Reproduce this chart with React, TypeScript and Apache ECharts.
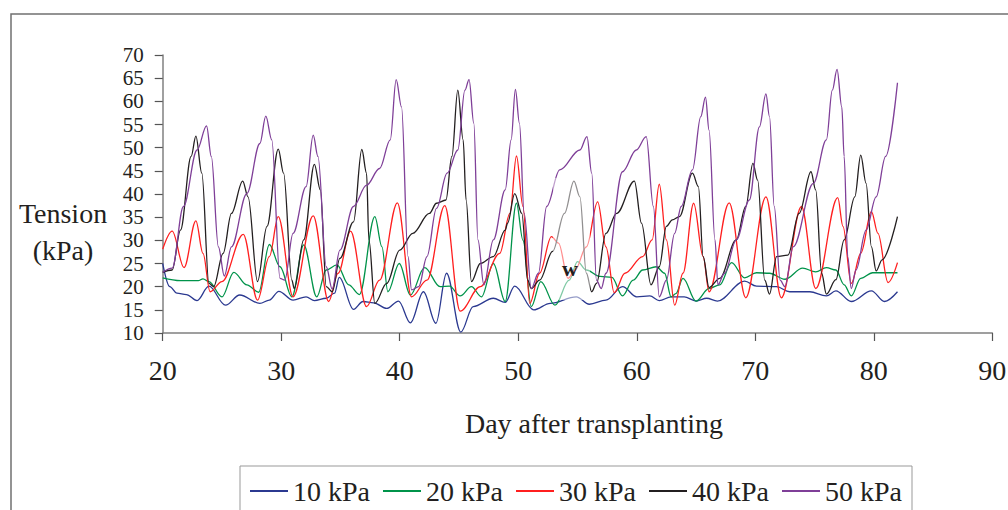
import React, { useEffect, useRef } from "react";
import * as echarts from "echarts";

const seriesNames = ["10 kPa", "20 kPa", "30 kPa", "40 kPa", "50 kPa"];
const seriesColors = ["#2b3990", "#00934a", "#ff1f1f", "#231f20", "#7f3f98"];

const days10 = [20.0, 20.6, 21.2, 22.0, 22.9, 23.9, 25.3, 26.5, 28.2, 29.0, 29.8, 31.0, 32.1, 32.8, 33.8, 34.5, 34.9, 36.1, 36.9, 37.8, 38.9, 39.9, 40.9, 42.0, 43.05, 43.95, 45.15, 46.2, 47.9, 48.9, 49.7, 51.3, 52.7, 54.9, 56.0, 57.4, 58.8, 60.0, 61.1, 61.9, 62.9, 64.0, 65.0, 65.9, 66.8, 69.1, 70.1, 71.8, 72.9, 74.6, 76.0, 76.8, 78.1, 79.8, 80.9, 82.0];
const kpa10 = [25, 20, 18.6, 18.3, 17, 20.1, 16, 18.2, 16.4, 17.1, 19, 17.1, 17.8, 17, 17.5, 18.6, 22, 15.1, 16.8, 16.5, 15.3, 16.9, 12.2, 18.9, 12.1, 22.9, 10.2, 15.7, 17.5, 16.6, 20.1, 15, 16.4, 17.8, 16.2, 17.1, 20, 17.8, 18, 17, 17.8, 17.8, 16.9, 17.5, 16.9, 21.2, 20.1, 20, 18.9, 18.9, 18, 19.1, 16.8, 19.1, 16.8, 18.9];

const days20 = [20.0, 21.5, 23.0, 23.4, 23.9, 25.0, 26.0, 27.1, 28.1, 29.0, 29.9, 30.9, 31.9, 33.0, 33.8, 34.7, 35.7, 36.6, 37.9, 38.5, 39.0, 39.96, 40.9, 42.1, 43.4, 44.2, 45.1, 46.05, 46.9, 47.9, 48.9, 49.85, 50.4, 51.1, 51.9, 53.1, 54.3, 55.0, 55.75, 56.9, 57.9, 58.8, 59.7, 60.5, 61.65, 62.35, 62.9, 63.3, 63.9, 65.0, 66.1, 67.0, 68.0, 69.1, 70.1, 71.2, 72.5, 74.0, 75.1, 76.0, 76.8, 77.5, 78.1, 78.9, 79.9, 82.0];
const kpa20 = [21.9, 21.3, 21.3, 21.7, 21.1, 17.8, 23.1, 20.4, 18.8, 29.1, 24.3, 17.8, 29, 17.8, 23.6, 24.7, 20.4, 18.3, 35.1, 28.6, 18.9, 25, 18.2, 24.1, 20, 20.1, 18, 20, 17.8, 25, 16.8, 38, 30, 15.7, 21.1, 16, 21.4, 25.4, 23.6, 22.2, 22, 18, 21.4, 23.6, 24.3, 22.9, 17.8, 18.5, 21.8, 16.9, 19.6, 20.4, 25.2, 21.9, 23, 22.9, 21.6, 24, 23.2, 24.1, 23.6, 20.4, 18, 21.8, 23, 23];

const days30 = [20.0, 20.8, 21.8, 22.8, 23.4, 24.0, 25.0, 26.8, 28.0, 29.0, 29.75, 31.0, 32.7, 34.0, 34.8, 35.85, 37.2, 38.3, 39.8, 41.0, 42.3, 43.8, 45.1, 46.8, 48.44, 49.3, 49.85, 50.4, 50.97, 51.8, 52.8, 53.4, 54.2, 54.8, 55.75, 56.7, 57.4, 58.1, 59.0, 60.5, 61.3, 61.9, 62.5, 63.2, 63.9, 64.8, 65.6, 66.1, 67.8, 69.2, 70.9, 72.2, 73.9, 75.1, 76.96, 77.4, 78.1, 78.9, 79.8, 80.35, 81.2, 82.0];
const kpa30 = [28.1, 32, 24.1, 34.2, 27.2, 18.9, 21.1, 31.3, 17.1, 26.5, 35.1, 17.8, 35.3, 16.8, 22.9, 32, 15.7, 21.4, 38.1, 17.8, 21.4, 37.5, 14.7, 20, 27.2, 35.8, 48.2, 37.3, 16.4, 22.9, 30.8, 29.4, 21.8, 23.6, 28.6, 38.3, 28.6, 18.7, 22.9, 26.5, 30.1, 42.1, 30.1, 16, 22.9, 38, 26.5, 18.9, 38.1, 17.6, 39.4, 17.6, 37.3, 19.6, 39.2, 33, 20.7, 27.2, 36.2, 31.5, 20.9, 25.2];

const days40 = [20.0, 20.8, 21.5, 22.4, 22.8, 23.3, 23.9, 24.3, 25.1, 25.8, 26.75, 27.2, 28.0, 28.8, 29.75, 30.2, 30.9, 31.1, 31.9, 32.8, 33.3, 33.8, 34.3, 34.95, 36.1, 36.8, 37.2, 37.4, 37.9, 38.9, 40.0, 41.1, 42.5, 43.1, 43.9, 44.4, 44.9, 45.35, 45.6, 46.05, 46.8, 47.9, 48.9, 49.1, 49.7, 50.3, 50.8, 51.1, 51.8, 52.9, 53.9, 54.7, 55.2, 55.75, 56.2, 56.6, 57.4, 58.3, 59.8, 60.4, 61.2, 61.9, 62.5, 63.0, 63.6, 64.7, 65.2, 65.6, 66.1, 67.0, 68.4, 69.2, 69.8, 70.2, 70.8, 71.2, 71.8, 72.75, 73.7, 74.7, 75.1, 75.6, 76.0, 76.8, 77.5, 78.4, 78.9, 79.35, 79.8, 80.2, 80.7, 82.0];
const kpa40 = [23.1, 23.6, 32.2, 48.1, 52.5, 44.5, 20.7, 20, 27.2, 35.8, 42.8, 39.4, 21.1, 33, 49.7, 44.5, 21.4, 19.6, 30.1, 46.4, 40.9, 20, 18.9, 26.1, 34, 49.6, 44.5, 30.1, 16.4, 20.7, 27.9, 31.5, 35.8, 38, 38.7, 48.1, 62.4, 51.7, 38.7, 21.1, 25, 26.5, 32.2, 33.7, 40.1, 35.8, 21.4, 19.6, 21.4, 27.6, 35.8, 42.8, 39.4, 22.9, 18.9, 20.7, 31.5, 35.8, 42.8, 33.7, 20.4, 24.3, 33, 34.4, 35.1, 44.5, 41.6, 26.5, 19.8, 21.8, 30.1, 37.3, 46.6, 43, 21.4, 18.4, 26.5, 26.8, 35.8, 44.8, 40.9, 22.9, 18.4, 21.5, 30.1, 39.4, 48.4, 42.3, 28.6, 23.4, 25.8, 35.1];

const days50 = [20.0, 20.8, 21.75, 22.9, 23.7, 24.1, 24.7, 25.2, 25.8, 27.1, 28.2, 28.7, 29.2, 29.9, 30.3, 31.0, 32.1, 32.7, 33.1, 33.8, 34.3, 34.95, 36.1, 37.2, 38.3, 39.2, 39.7, 40.15, 40.7, 41.0, 41.6, 42.3, 43.1, 44.0, 44.9, 45.5, 45.85, 46.25, 46.6, 47.1, 47.9, 48.9, 49.4, 49.76, 50.1, 50.5, 51.1, 51.7, 52.4, 53.5, 55.2, 55.8, 56.2, 56.6, 57.0, 57.4, 58.8, 59.96, 60.8, 61.4, 61.9, 62.5, 63.2, 63.75, 64.7, 65.4, 65.8, 66.1, 66.6, 66.85, 67.4, 68.4, 69.5, 70.35, 70.9, 71.2, 71.6, 72.1, 72.5, 73.2, 74.9, 76.0, 76.5, 76.9, 77.3, 77.5, 77.8, 78.1, 78.5, 79.35, 80.2, 81.0, 82.0];
const kpa50 = [23.1, 24, 37.3, 49.5, 54.7, 48.1, 28.6, 22.3, 28.6, 40.1, 50.9, 56.8, 51.7, 21.8, 21.4, 31.5, 41.6, 52.7, 48.1, 24.3, 19.5, 27.9, 37.3, 41.9, 45.5, 51.7, 64.7, 58.8, 26.5, 19.3, 20, 26.5, 36.9, 44.5, 49.5, 62.4, 64.7, 55.3, 30.1, 20.4, 30.1, 40.9, 51.7, 62.6, 55.3, 35.8, 19.6, 22.9, 37.3, 45.2, 49.5, 52.4, 44.5, 21.4, 19.6, 22.9, 44.8, 49.5, 52.4, 37.3, 17.8, 21.4, 31.5, 37.3, 45.2, 56.7, 60.9, 53.8, 30.1, 20.4, 22.9, 30.1, 38.7, 54.5, 61.6, 56.7, 37.3, 21.4, 20, 28.6, 42.3, 51.7, 62.4, 66.9, 58.8, 48.1, 26.5, 19.6, 23.6, 32.2, 39.4, 48.1, 64];

const allDays = [days10, days20, days30, days40, days50];
const allKpa = [kpa10, kpa20, kpa30, kpa40, kpa50];

const Y_MIN = 10;
const Y_MAX = 70;
const Y_STEP = 5;

const SERIF = "'Liberation Serif', 'Times New Roman', serif";
const Y_LABEL_SIZE = 21;

export default function App() {
  const ref = useRef<HTMLDivElement>(null);

  useEffect(() => {
    document.body.style.margin = "0";
    if (!ref.current) return;
    const chart = echarts.init(ref.current, undefined, { renderer: "svg" });
    const series = seriesNames.map((name, i) => ({
      name,
      type: "line",
      yAxisIndex: 0,
      data: allDays[i].map((d, j) => [d, allKpa[i][j]]),
      symbol: "none",
      showSymbol: false,
      smooth: 0.35,
      smoothMonotone: "x",
      lineStyle: { color: seriesColors[i], width: 1.3 },
      itemStyle: { color: seriesColors[i] },
      z: 2 + i,
    }));
    const yLabelBase = {
      fontFamily: SERIF,
      fontSize: Y_LABEL_SIZE,
      color: "#231f20",
      margin: 19,
      hideOverlap: false,
    };
    chart.setOption({
      animation: false,
      backgroundColor: "#ffffff",
      grid: { left: 162.7, right: 15.7, top: 55, bottom: 177, containLabel: false, outerBoundsMode: "none" },
      xAxis: {
        type: "value",
        min: 20,
        max: 90,
        interval: 10,
        axisLine: { show: true, lineStyle: { color: "#808080", width: 1.5 } },
        axisTick: { show: true, length: 8, inside: false, lineStyle: { color: "#555555", width: 1.2 } },
        splitLine: { show: false },
        axisLabel: { fontFamily: SERIF, fontSize: 28, color: "#231f20", margin: 23, showMinLabel: true, showMaxLabel: true, hideOverlap: false },
      },
      yAxis: [
        {
          type: "value",
          position: "left",
          min: Y_MIN,
          max: Y_MAX,
          interval: Y_STEP,
          axisLine: { show: true, lineStyle: { color: "#808080", width: 1.5 } },
          axisTick: { show: true, length: 8, inside: false, lineStyle: { color: "#555555", width: 1.2 } },
          splitLine: { show: false },
          axisLabel: {
            ...yLabelBase,
            showMinLabel: true,
            showMaxLabel: true,
            formatter: (v: number) => (v % 10 === 0 ? String(v) : ""),
          },
        },
        {
          type: "value",
          position: "left",
          offset: 0,
          min: Y_MIN,
          max: Y_MAX,
          interval: Y_STEP,
          axisLine: { show: false },
          axisTick: { show: false },
          splitLine: { show: false },
          axisLabel: {
            ...yLabelBase,
            showMinLabel: false,
            showMaxLabel: false,
            formatter: (v: number) => (v % 10 === 5 ? String(v) : ""),
          },
        },
      ],
      legend: {
        show: true,
        left: 240,
        top: 466,
        orient: "horizontal",
        data: seriesNames.map((n) => ({ name: n, icon: "rect" })),
        itemWidth: 38,
        itemHeight: 2,
        itemGap: 13,
        padding: [11, 10, 40, 10],
        borderColor: "#999999",
        borderWidth: 1,
        textStyle: { fontFamily: SERIF, fontSize: 28, color: "#231f20" },
      },
      graphic: [
        {
          type: "rect",
          z: 100,
          shape: { x: 11, y: 14, width: 1200, height: 700 },
          style: { fill: "none", stroke: "#707070", lineWidth: 1.5 },
        },
        {
          type: "rect",
          z: 50,
          shape: { x: 553, y: 178, width: 37, height: 122 },
          style: { fill: "rgba(255,255,255,0.5)", stroke: "none" },
        },
        {
          type: "text",
          z: 60,
          x: 570,
          y: 268,
          style: { text: "w", font: "bold 22px " + SERIF, fill: "#231f20", align: "center", verticalAlign: "middle", textAlign: "center", textVerticalAlign: "middle" },
        },
        {
          type: "text",
          x: 63,
          y: 213,
          style: { text: "Tension", font: "28px " + SERIF, fill: "#231f20", align: "center", verticalAlign: "middle", textAlign: "center", textVerticalAlign: "middle" },
        },
        {
          type: "text",
          x: 63,
          y: 250,
          style: { text: "(kPa)", font: "28px " + SERIF, fill: "#231f20", align: "center", verticalAlign: "middle", textAlign: "center", textVerticalAlign: "middle" },
        },
        {
          type: "text",
          x: 594,
          y: 423,
          style: { text: "Day after transplanting", font: "28px " + SERIF, fill: "#231f20", align: "center", verticalAlign: "middle", textAlign: "center", textVerticalAlign: "middle" },
        },
      ],
      series,
    });
    return () => chart.dispose();
  }, []);

  return <div ref={ref} style={{ width: 1008, height: 510 }} />;
}
